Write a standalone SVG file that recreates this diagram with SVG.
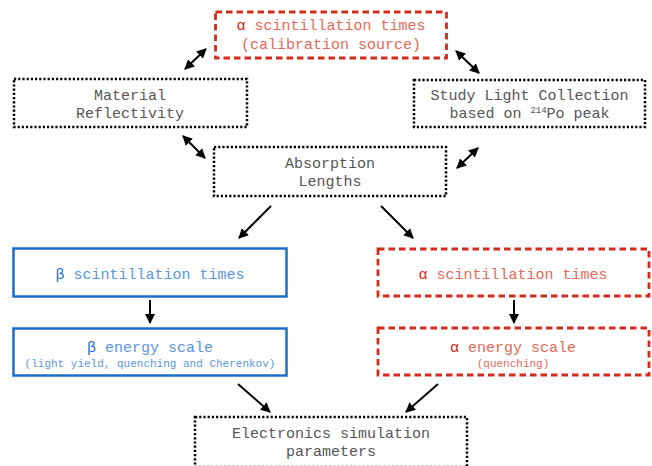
<svg xmlns="http://www.w3.org/2000/svg" width="652" height="466" viewBox="0 0 652 466">
<style>
text{font-family:"Liberation Mono","Courier New",monospace;font-size:15px;text-anchor:middle}
.blk{fill:#555}
.red{fill:#e26a56}
.redd{fill:#d42a1a}
.blu{fill:#5a96da}
.blud{fill:#1a6fc8}
.sm{font-size:11px}
.dot{fill:none;stroke:#000;stroke-width:2.5;stroke-dasharray:2.2 2}
.dash{fill:none;stroke:#d42a1a;stroke-width:2.8;stroke-dasharray:6.5 4}
.sol{fill:none;stroke:#1a6fc8;stroke-width:2.5}
.ar{fill:none;stroke:#000;stroke-width:2}
</style>
<defs>
<marker id="ah" viewBox="0 0 10 10" refX="9" refY="5" markerWidth="5" markerHeight="5" orient="auto-start-reverse" markerUnits="strokeWidth">
<path d="M0,0 L10,5 L0,10 z" fill="#000"/>
</marker>
</defs>
<g id="n-alpha-cal">
<rect class="dash" x="215.5" y="12" width="231" height="46"/>
<text x="331" y="30"><tspan class="redd">α</tspan><tspan class="red"> scintillation times</tspan></text>
<text x="331" y="49" class="red">(calibration source)</text>
</g>
<g id="n-reflect">
<rect class="dot" x="14" y="79" width="233" height="48"/>
<text x="130" y="100" class="blk">Material</text>
<text x="130" y="118" class="blk">Reflectivity</text>
</g>
<g id="n-light">
<rect class="dot" x="414" y="80" width="231" height="47"/>
<text x="529.5" y="100" class="blk">Study Light Collection</text>
<text x="529.5" y="118" class="blk">based on <tspan font-size="9" dy="-5">214</tspan><tspan dy="5">Po peak</tspan></text>
</g>
<g id="n-absorb">
<rect class="dot" x="214" y="147" width="232" height="49"/>
<text x="330" y="168" class="blk">Absorption</text>
<text x="330" y="186" class="blk">Lengths</text>
</g>
<g id="n-beta-sc">
<rect class="sol" x="13.5" y="248.5" width="273" height="48"/>
<text x="150" y="279"><tspan class="blud">β</tspan><tspan class="blu"> scintillation times</tspan></text>
</g>
<g id="n-beta-en">
<rect class="sol" x="13.5" y="328.5" width="273" height="47"/>
<text x="150" y="352"><tspan class="blud">β</tspan><tspan class="blu"> energy scale</tspan></text>
<text x="150" y="367" class="blu sm">(light yield, quenching and Cherenkov)</text>
</g>
<g id="n-alpha-sc">
<rect class="dash" x="378" y="249" width="271" height="47"/>
<text x="513" y="279"><tspan class="redd">α</tspan><tspan class="red"> scintillation times</tspan></text>
</g>
<g id="n-alpha-en">
<rect class="dash" x="378" y="328" width="271" height="47"/>
<text x="513" y="352"><tspan class="redd">α</tspan><tspan class="red"> energy scale</tspan></text>
<text x="513" y="367" class="red sm">(quenching)</text>
</g>
<g id="n-elec">
<rect class="dot" x="195" y="417" width="272" height="50"/>
<text x="331" y="438" class="blk">Electronics simulation</text>
<text x="331" y="456" class="blk">parameters</text>
</g>
<g id="connectors">
<line class="ar" x1="185" y1="69" x2="206" y2="49" marker-start="url(#ah)" marker-end="url(#ah)"/>
<line class="ar" x1="456" y1="51" x2="479" y2="73" marker-start="url(#ah)" marker-end="url(#ah)"/>
<line class="ar" x1="183" y1="136" x2="205" y2="158" marker-start="url(#ah)" marker-end="url(#ah)"/>
<line class="ar" x1="457" y1="168" x2="478" y2="148" marker-start="url(#ah)" marker-end="url(#ah)"/>
<line class="ar" x1="271" y1="206" x2="239" y2="238" marker-end="url(#ah)"/>
<line class="ar" x1="381" y1="206" x2="413" y2="238" marker-end="url(#ah)"/>
<line class="ar" x1="150" y1="300" x2="150" y2="323" marker-end="url(#ah)"/>
<line class="ar" x1="514" y1="300" x2="514" y2="323" marker-end="url(#ah)"/>
<line class="ar" x1="238" y1="384" x2="270" y2="412" marker-end="url(#ah)"/>
<line class="ar" x1="438" y1="384" x2="406" y2="412" marker-end="url(#ah)"/>
</g>
</svg>
